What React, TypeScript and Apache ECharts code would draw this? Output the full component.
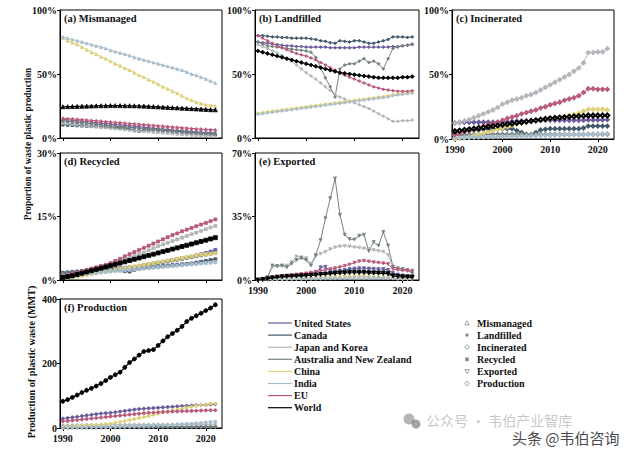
import React, { useEffect, useRef } from "react";
import * as echarts from "echarts";

const YEARS = [1990, 1991, 1992, 1993, 1994, 1995, 1996, 1997, 1998, 1999, 2000, 2001, 2002, 2003, 2004, 2005, 2006, 2007, 2008, 2009, 2010, 2011, 2012, 2013, 2014, 2015, 2016, 2017, 2018, 2019, 2020, 2021, 2022];
const COUNTRIES = ["United States", "Canada", "Japan and Korea", "Australia and New Zealand", "China", "India", "EU", "World"];
const CATEGORIES = ["Mismanaged", "Landfilled", "Incinerated", "Recycled", "Exported", "Production"];
const PANEL_TITLES = ["(a) Mismanaged", "(b) Landfilled", "(c) Incinerated", "(d) Recycled", "(e) Exported", "(f) Production"];
const X_TICKS = [1990, 2000, 2010, 2020];
const Y_MAX = [100, 100, 100, 30, 70, 400];
const Y_STEP = [50, 50, 50, 15, 35, 200];

// (a) Mismanaged, %
const mismanagedUS = [14.5, 14.2, 13.9, 13.5, 13.1, 12.8, 12.4, 12, 11.6, 11.3, 10.9, 10.5, 10.2, 9.8, 9.5, 9.1, 8.8, 8.4, 8, 7.7, 7.3, 7, 6.7, 6.3, 6, 5.7, 5.4, 5.1, 4.8, 4.6, 4.4, 4.2, 4];
const mismanagedCanada = [10.5, 10.3, 10.1, 9.9, 9.7, 9.5, 9.3, 9.1, 8.9, 8.7, 8.5, 8.3, 8.1, 7.9, 7.3, 6, 5.5, 6.5, 7, 6.8, 6.5, 6.2, 5.9, 5.6, 5.3, 5, 4.7, 4.4, 4.1, 3.8, 3.5, 3.2, 3];
const mismanagedJapanKorea = [12, 11.6, 11.2, 10.8, 10.4, 10, 9.6, 9.2, 8.8, 8.4, 8, 7.6, 7.2, 6.8, 6.4, 6, 5.7, 5.4, 5.1, 4.8, 4.5, 4.2, 3.9, 3.6, 3.3, 3, 2.8, 2.6, 2.4, 2.2, 2, 1.8, 1.6];
const mismanagedAusNZ = [13.5, 13.1, 12.7, 12.3, 11.9, 11.5, 11.1, 10.7, 10.3, 9.9, 9.5, 9.2, 8.9, 8.6, 8.3, 8, 7.7, 7.4, 7.1, 6.8, 6.5, 6.2, 5.9, 5.6, 5.3, 5, 4.7, 4.5, 4.3, 4.1, 3.9, 3.7, 3.5];
const mismanagedChina = [78, 76, 74.5, 73, 71, 69, 67, 65.5, 63.5, 62, 60, 58, 56.5, 54.5, 53, 51, 49, 47.5, 45.5, 44, 42, 40, 38.5, 36.5, 35, 33, 31, 29.5, 28, 27, 26, 25.5, 25];
const mismanagedIndia = [79, 78, 77, 76, 75, 74, 73, 72, 71, 70, 68.5, 67.5, 66.5, 65.5, 64.5, 63, 62, 61, 60, 59, 58, 57, 56, 55, 54, 53, 51.5, 50, 49, 47.5, 46, 44.5, 43];
const mismanagedEU = [15.5, 15.2, 15, 14.7, 14.4, 14.1, 13.8, 13.5, 13.2, 12.9, 12.6, 12.3, 12, 11.7, 11.4, 11.1, 10.8, 10.5, 10.2, 9.9, 9.6, 9.3, 9, 8.7, 8.4, 8.1, 7.8, 7.5, 7.2, 7, 6.8, 6.6, 6.4];
const mismanagedWorld = [24.4, 24.5, 24.6, 24.7, 24.8, 24.9, 25, 25.1, 25.2, 25.2, 25.3, 25.3, 25.3, 25.2, 25.2, 25.1, 25, 24.9, 24.7, 24.5, 24.3, 24.1, 23.9, 23.7, 23.5, 23.3, 23.1, 22.9, 22.7, 22.5, 22.3, 22.1, 22];

// (b) Landfilled, %
const landfilledUS = [75, 74.5, 74, 73.5, 73, 72.5, 72, 72, 71.5, 71.5, 71, 71, 71, 71, 71, 70.5, 70.5, 70.5, 70.5, 70.5, 70.5, 71, 71, 71, 71, 71, 71, 71, 71.5, 71.5, 72, 72.5, 73];
const landfilledCanada = [80, 80, 79.5, 79, 79, 78.5, 78.5, 78, 78, 78, 78, 77.5, 77, 76, 75.5, 74.5, 74, 76, 75.5, 75, 76, 76, 75, 74, 74, 75, 76, 77, 79, 79, 79, 78.5, 79];
const landfilledJapanKorea = [73, 71.5, 70, 68, 66.5, 64.5, 62, 60, 57, 54, 51, 48.5, 46, 43, 40, 37, 34, 32, 30.5, 29, 27.5, 26, 24.5, 23, 21, 19, 17, 15, 13, 13, 13.5, 13.5, 14];
const landfilledAusNZ = [75, 73.5, 72, 71.5, 71, 70.5, 70, 69.5, 69, 68.5, 68, 67, 63, 55, 47, 40, 32, 54, 57, 58, 58, 60, 62, 59, 60, 58, 54, 62, 70, 71, 72, 72.5, 73.5];
const landfilledChina = [19.5, 20, 20.5, 21, 21.5, 22, 22.5, 23, 23.5, 24, 24.5, 25, 25.5, 26, 26.5, 27, 27.5, 28, 28.5, 29, 29.5, 30, 30.5, 31, 31.5, 32, 32.5, 33, 34, 34.5, 35, 35.5, 36];
const landfilledIndia = [18.5, 19, 19.5, 20, 20.5, 21, 21.5, 22, 22.5, 23, 23.5, 24, 24.5, 25, 25.5, 26, 26.5, 27, 27.5, 28, 28.5, 29, 29.5, 30, 30.5, 31, 31.5, 32, 33, 33.5, 34, 34.5, 35];
const landfilledEU = [80, 78, 76, 74, 72, 70.5, 69, 67.5, 66, 65, 64, 62.5, 61, 59, 57, 55, 53, 51, 49, 47.5, 46, 44.5, 43, 41.5, 40, 39, 38, 37.5, 37, 36.5, 36.5, 36.5, 37];
const landfilledWorld = [68, 67, 66, 65, 64, 63, 62, 61, 60, 59, 58, 57, 56, 55, 54, 53, 52, 51, 50.5, 50, 49.5, 49, 48.5, 48, 47.5, 47, 47, 47, 47, 47, 47.5, 47.5, 48];

// (c) Incinerated, %
const incineratedUS = [12.5, 12.8, 13, 13, 13, 13, 13, 13, 13, 13, 13.2, 13.4, 13.6, 13.8, 14, 14, 14.2, 14.2, 14.3, 14.4, 14.5, 14.5, 14.5, 14.5, 14.5, 14.5, 14.5, 14.6, 14.8, 14.8, 14.8, 14.9, 15];
const incineratedCanada = [5, 5.5, 6, 6.5, 7, 7, 7.5, 7.5, 8, 8, 8, 8, 8, 6.5, 5, 3.5, 3, 5, 7, 7.5, 8, 8, 8, 8, 8, 8, 8, 8.5, 10, 10, 10, 10, 10];
const incineratedJapanKorea = [12.5, 13, 14, 15, 16.5, 18, 19.5, 21, 22.5, 24.5, 27, 28.5, 30, 31, 32, 33.5, 34.5, 36, 38, 40, 42, 44, 46, 48, 50, 52.5, 55, 59, 67, 67, 67.5, 67.5, 70];
const incineratedAusNZ = [3, 3, 3.2, 3.3, 3.4, 3.5, 3.5, 3.6, 3.6, 3.6, 3.6, 3.6, 3.6, 3.6, 3.6, 3.5, 3.5, 3.5, 3.5, 3.5, 3.5, 3.5, 3.5, 3.5, 3.5, 3.5, 3.5, 3.5, 3.6, 3.6, 3.6, 3.6, 3.6];
const incineratedChina = [0, 0.5, 1, 1.5, 2.5, 3.5, 4.5, 5.5, 6.5, 7.5, 8.5, 9.5, 10.5, 11.5, 12.5, 13, 13.5, 14, 14.5, 15, 15.5, 16, 16.5, 17, 18, 19, 20, 21.5, 23, 23, 23, 23, 22.5];
const incineratedIndia = [1, 1, 1.1, 1.2, 1.3, 1.4, 1.5, 1.6, 1.7, 1.8, 1.9, 2, 2.1, 2.2, 2.3, 2.4, 2.5, 2.6, 2.7, 2.8, 2.9, 3, 3.1, 3.2, 3.3, 3.4, 3.5, 3.6, 3.7, 3.8, 3.9, 4, 4.1];
const incineratedEU = [3.5, 4.5, 5.5, 6.5, 7.5, 8.7, 9.8, 11, 12, 13, 14.5, 16, 17, 18, 19.5, 20.5, 21.5, 22.5, 24, 25, 26.5, 27.5, 28.5, 30, 31, 32, 33.5, 36, 39, 39, 38.5, 38.5, 38.5];
const incineratedWorld = [6, 6.5, 7, 7.5, 8, 8.5, 9, 9.5, 10, 10.5, 11, 11.5, 12, 12.5, 13, 13.5, 14, 14.5, 15, 15.5, 16, 16.3, 16.6, 16.9, 17.2, 17.5, 17.7, 17.9, 18.2, 18.2, 18.2, 18.3, 18.3];

// (d) Recycled, %
const recycledUS = [1.6, 1.7, 1.8, 1.9, 2, 2.1, 2.2, 2.3, 2.4, 2.5, 2.6, 2.7, 2.8, 2.9, 3, 3.1, 3.3, 3.5, 3.7, 3.9, 4.1, 4.3, 4.5, 4.7, 4.9, 5.1, 5.3, 5.5, 5.8, 6.1, 6.4, 6.7, 7.1];
const recycledCanada = [1.7, 1.8, 1.9, 2, 2.1, 2.2, 2.3, 2.4, 2.5, 2.5, 2.5, 2.4, 2.3, 2.1, 2, 2.4, 2.7, 2.9, 3, 3.1, 3.2, 3.3, 3.4, 3.5, 3.6, 3.7, 3.8, 3.9, 4.1, 4.3, 4.5, 4.7, 4.9];
const recycledJapanKorea = [0.8, 1, 1.3, 1.6, 1.9, 2.2, 2.5, 2.8, 3.1, 3.4, 3.7, 4.1, 4.5, 4.9, 5.3, 5.7, 6.1, 6.5, 7, 7.5, 8, 8.4, 8.8, 9.2, 9.6, 10, 10.4, 10.8, 11.2, 11.6, 12, 12.4, 12.8];
const recycledAusNZ = [1.5, 1.6, 1.7, 1.8, 1.9, 2, 2.1, 2.2, 2.3, 2.4, 2.5, 2.6, 2.7, 2.8, 2.9, 3, 3.2, 3.4, 3.6, 3.8, 4, 4.2, 4.4, 4.6, 4.8, 5, 5.2, 5.4, 5.6, 5.8, 6, 6.2, 6.4];
const recycledChina = [0.5, 0.6, 0.7, 0.8, 1, 1.2, 1.4, 1.6, 1.8, 2, 2.2, 2.4, 2.6, 2.8, 3, 3.2, 3.4, 3.6, 3.8, 4, 4.2, 4.4, 4.6, 4.8, 5, 5.2, 5.4, 5.6, 5.8, 6, 6.1, 6.2, 6.3];
const recycledIndia = [1, 1.1, 1.2, 1.3, 1.4, 1.5, 1.6, 1.7, 1.8, 1.9, 2, 2.1, 2.2, 2.3, 2.4, 2.5, 2.6, 2.7, 2.8, 2.9, 3, 3.1, 3.2, 3.3, 3.4, 3.5, 3.6, 3.7, 3.8, 3.9, 4, 4.1, 4.2];
const recycledEU = [0.8, 1.1, 1.4, 1.7, 2, 2.4, 2.7, 3, 3.3, 3.6, 4, 4.5, 5, 5.6, 6.1, 6.6, 7.1, 7.6, 8.1, 8.6, 9.1, 9.6, 10.1, 10.6, 11, 11.5, 11.9, 12.3, 12.7, 13.1, 13.5, 13.9, 14.3];
const recycledWorld = [0.6, 0.8, 1, 1.3, 1.6, 1.9, 2.2, 2.5, 2.8, 3.1, 3.4, 3.7, 4, 4.3, 4.6, 4.9, 5.2, 5.5, 5.8, 6.1, 6.4, 6.7, 7, 7.3, 7.6, 7.9, 8.2, 8.5, 8.8, 9.1, 9.4, 9.7, 10];

// (e) Exported, %
const exportedUS = [0, 0.3, 0.6, 1, 1.3, 1.6, 1.9, 2.2, 2.5, 2.8, 3, 3.5, 4, 7, 7.3, 5, 4.8, 5, 5.5, 6, 6.3, 6.5, 6.5, 6.3, 6.2, 6, 6, 5.5, 4, 3, 2.5, 2.2, 2];
const exportedCanada = [0, 0.2, 0.5, 0.8, 1, 1.2, 1.5, 1.8, 2, 2.3, 2.5, 2.8, 3, 3.3, 3.6, 4, 4.3, 4.6, 4.8, 5, 5, 4.9, 4.8, 4.7, 4.6, 4.5, 4.4, 4.2, 3, 2.6, 2.3, 2.1, 2];
const exportedJapanKorea = [0, 0.5, 1.5, 7, 7.5, 7.8, 8, 10, 13, 12.5, 12, 9, 13, 14.5, 15.5, 17, 18, 18.5, 18.7, 18.5, 18, 17.8, 17.4, 17, 16.5, 16, 15.6, 13.7, 7.3, 6.4, 6, 5.5, 5];
const exportedAusNZ = [0, 0.5, 1.5, 8, 7.7, 8, 7, 9, 11, 12, 11, 8, 13.7, 22, 34, 45, 56, 36, 25, 22.5, 22.3, 24.4, 25, 16, 21, 19, 26.5, 19, 7.3, 6.4, 5.9, 5.5, 3.7];
const exportedChina = [0, 0, 0.1, 0.2, 0.3, 0.4, 0.5, 0.6, 0.7, 0.8, 0.9, 1, 1.1, 1.2, 1.3, 1.4, 1.5, 1.6, 1.7, 1.8, 1.8, 1.8, 1.8, 1.7, 1.6, 1.5, 1.4, 1.3, 0.8, 0.6, 0.5, 0.5, 0.5];
const exportedIndia = [0, 0, 0.1, 0.1, 0.2, 0.2, 0.3, 0.3, 0.4, 0.4, 0.5, 0.5, 0.6, 0.6, 0.7, 0.7, 0.8, 0.8, 0.9, 0.9, 1, 1, 1, 1, 1, 1, 1, 1, 0.8, 0.7, 0.6, 0.6, 0.6];
const exportedEU = [0, 0.3, 0.8, 1.2, 1.6, 2, 2.3, 2.6, 3, 3.3, 3.6, 4, 4.5, 5, 5.5, 6, 6.5, 7, 7.8, 8.5, 9.5, 10.3, 10.6, 10.2, 9.8, 9.5, 9.2, 8.8, 6, 5.5, 5.2, 5, 5];
const exportedWorld = [0, 0.3, 0.7, 1.2, 1.6, 1.8, 2, 2.1, 2.2, 2.3, 2.4, 2.6, 2.8, 3, 3.2, 3.4, 3.6, 3.8, 3.9, 4, 4, 4, 4, 3.9, 3.8, 3.7, 3.6, 3.4, 2.2, 1.9, 1.7, 1.6, 1.5];

// (f) Production, MMT
const productionUS = [29, 31, 33, 35, 37, 39, 41, 43, 45, 46, 47, 49, 51, 53, 55, 57, 59, 60, 61, 62, 63, 64, 65, 66, 67, 68, 69, 70, 70.5, 71, 72, 73, 74];
const productionCanada = [2, 2.1, 2.2, 2.3, 2.4, 2.5, 2.6, 2.7, 2.8, 2.9, 3, 3.1, 3.2, 3.3, 3.4, 3.5, 3.6, 3.7, 3.8, 3.9, 4, 4, 4.1, 4.1, 4.2, 4.2, 4.3, 4.3, 4.4, 4.4, 4.5, 4.5, 4.6];
const productionJapanKorea = [8, 8.2, 8.4, 8.6, 8.8, 9, 9.2, 9.4, 9.6, 9.8, 10, 10, 10.1, 10.2, 10.3, 10.4, 10.5, 10.5, 10.5, 10.4, 10.5, 10.6, 10.7, 10.8, 10.9, 11, 11, 11.1, 11.2, 11.2, 11.3, 11.4, 11.5];
const productionAusNZ = [1, 1.1, 1.2, 1.3, 1.4, 1.5, 1.6, 1.7, 1.8, 1.9, 2, 2.1, 2.2, 2.3, 2.4, 2.5, 2.6, 2.7, 2.8, 2.9, 3, 3, 3.1, 3.1, 3.2, 3.2, 3.3, 3.3, 3.4, 3.4, 3.5, 3.5, 3.6];
const productionChina = [2, 3, 4, 5, 6, 7.5, 8.5, 9.5, 11, 12, 13, 16, 19, 22, 25, 28, 31, 34, 37, 41, 45, 48, 51, 54, 57, 60, 63, 66, 69, 71, 73, 75, 76];
const productionIndia = [0.5, 0.8, 1, 1.3, 1.6, 2, 2.3, 2.6, 3, 3.3, 3.7, 4, 4.4, 4.8, 5.2, 5.6, 6, 6.5, 7, 7.5, 8, 8.7, 9.5, 10.3, 11, 12, 13, 14, 15, 16, 17.5, 19, 20];
const productionEU = [21, 22, 23.5, 25, 26.5, 28, 29.5, 31, 32.5, 34, 36, 37, 38.5, 40, 41.5, 43, 44.5, 46, 47, 48, 49, 50, 50.5, 51, 51.5, 52, 52.5, 53, 53.5, 54, 54.5, 55, 55];
const productionWorld = [83, 88, 95, 102, 110, 117, 123, 130, 138, 147, 157, 165, 173, 188, 203, 214, 226, 237, 240, 243, 256, 270, 283, 293, 303, 315, 330, 340, 348, 356, 364, 372, 382];

const MISMANAGED = [mismanagedUS, mismanagedCanada, mismanagedJapanKorea, mismanagedAusNZ, mismanagedChina, mismanagedIndia, mismanagedEU, mismanagedWorld];
const LANDFILLED = [landfilledUS, landfilledCanada, landfilledJapanKorea, landfilledAusNZ, landfilledChina, landfilledIndia, landfilledEU, landfilledWorld];
const INCINERATED = [incineratedUS, incineratedCanada, incineratedJapanKorea, incineratedAusNZ, incineratedChina, incineratedIndia, incineratedEU, incineratedWorld];
const RECYCLED = [recycledUS, recycledCanada, recycledJapanKorea, recycledAusNZ, recycledChina, recycledIndia, recycledEU, recycledWorld];
const EXPORTED = [exportedUS, exportedCanada, exportedJapanKorea, exportedAusNZ, exportedChina, exportedIndia, exportedEU, exportedWorld];
const PRODUCTION = [productionUS, productionCanada, productionJapanKorea, productionAusNZ, productionChina, productionIndia, productionEU, productionWorld];
const PANEL_DATA = [MISMANAGED, LANDFILLED, INCINERATED, RECYCLED, EXPORTED, PRODUCTION];

const COLORS = ["#6a5a9c", "#41596b", "#b2b6ba", "#75837f", "#ddd07a", "#a9bccb", "#b8587a", "#000000"];
const FONT = "'Liberation Serif', 'Times New Roman', serif";

const GRIDS = [
  { left: 60, top: 10, width: 162, height: 128 },
  { left: 255, top: 10, width: 164, height: 128 },
  { left: 452, top: 10, width: 162, height: 129 },
  { left: 60, top: 153, width: 162, height: 127 },
  { left: 255, top: 153, width: 164, height: 127 },
  { left: 60, top: 299, width: 162, height: 129 },
];
const SHOW_X_LABELS = [false, false, true, false, true, true];
const SYMBOLS = [
  { symbol: "triangle", rotate: 0 },
  { symbol: "diamond", rotate: 0 },
  { symbol: "emptyDiamond", rotate: 0 },
  { symbol: "rect", rotate: 0 },
  { symbol: "triangle", rotate: 180 },
  { symbol: "circle", rotate: 0 },
];

export default function App() {
  const ref = useRef<HTMLDivElement>(null);

  useEffect(() => {
    if (!ref.current) return;
    const chart = echarts.init(ref.current, undefined, { renderer: "svg" });
    const labelStyle = { fontFamily: FONT, fontWeight: "bold" as const, fontSize: 10, color: "#111" };

    const xAxis = GRIDS.map((_, i) => ({
      type: "value",
      gridIndex: i,
      min: 1989.4,
      max: 2023.4,
      axisLine: { show: true, lineStyle: { color: "#000", width: 1 } },
      axisTick: { show: true, customValues: X_TICKS, length: 3, lineStyle: { color: "#000" } },
      axisLabel: { show: SHOW_X_LABELS[i], customValues: X_TICKS, margin: 5, ...labelStyle, formatter: (v: number) => String(Math.round(v)) },
      splitLine: { show: false },
    }));
    const yAxis = GRIDS.map((_, i) => ({
      type: "value",
      gridIndex: i,
      min: 0,
      max: Y_MAX[i],
      interval: Y_STEP[i],
      axisLine: { show: true, lineStyle: { color: "#000", width: 1 } },
      axisTick: { show: true, length: 3, lineStyle: { color: "#000" } },
      axisLabel: {
        margin: 3,
        ...labelStyle,
        formatter: (v: number) => (i < 5 ? `${v}%` : `${v}`),
      },
      splitLine: { show: false },
    }));

    const series: any[] = [];
    PANEL_DATA.forEach((panel, gi) => {
      panel.forEach((vals, ci) => {
        const isWorld = ci === COUNTRIES.length - 1;
        series.push({
          type: "line",
          name: `${COUNTRIES[ci]} ${CATEGORIES[gi]}`,
          xAxisIndex: gi,
          yAxisIndex: gi,
          data: vals.map((v, k) => [YEARS[k], v]),
          symbol: SYMBOLS[gi].symbol,
          symbolRotate: SYMBOLS[gi].rotate,
          symbolSize: isWorld ? 4 : 3,
          showSymbol: true,
          lineStyle: { color: COLORS[ci], width: isWorld ? 1.2 : 1 },
          itemStyle: { color: COLORS[ci], borderColor: COLORS[ci], borderWidth: 0.8 },
          z: isWorld ? 5 : 2,
          silent: true,
        });
      });
    });

    const graphic: any[] = [];
    PANEL_TITLES.forEach((t, i) => {
      graphic.push({
        type: "text",
        x: GRIDS[i].left + 4,
        y: GRIDS[i].top + 8,
        style: { text: t, fontFamily: FONT, fontWeight: "bold", fontSize: 10.5, fill: "#111", textVerticalAlign: "middle" },
        z: 10,
      });
    });
    graphic.push({
      type: "text",
      x: 28,
      y: 144,
      rotation: Math.PI / 2,
      style: { text: "Proportion of waste plastic production", fontFamily: FONT, fontWeight: "bold", fontSize: 9.3, fill: "#111", textAlign: "center", textVerticalAlign: "middle" },
    });
    graphic.push({
      type: "text",
      x: 31,
      y: 362,
      rotation: Math.PI / 2,
      style: { text: "Production of plastic waste (MMT)", fontFamily: FONT, fontWeight: "bold", fontSize: 10.2, fill: "#111", textAlign: "center", textVerticalAlign: "middle" },
    });

    // country legend
    COUNTRIES.forEach((c, i) => {
      const y = 323 + i * 12.1;
      graphic.push({ type: "line", shape: { x1: 268, y1: y, x2: 292, y2: y }, style: { stroke: COLORS[i], lineWidth: 1.2 } });
      graphic.push({
        type: "text", x: 294, y,
        style: { text: c, fontFamily: FONT, fontWeight: "bold", fontSize: 10, fill: "#111", textVerticalAlign: "middle" },
      });
    });

    // marker legend
    const mx = 467;
    const mk = "#8a8a8a";
    CATEGORIES.forEach((c, i) => {
      const y = 323 + i * 12.1;
      let shape: any;
      if (i === 0) shape = { type: "polygon", shape: { points: [[mx, y - 2.2], [mx - 2.2, y + 1.8], [mx + 2.2, y + 1.8]] }, style: { fill: "none", stroke: mk, lineWidth: 0.8 } };
      else if (i === 1) shape = { type: "polygon", shape: { points: [[mx, y - 2.2], [mx + 2, y], [mx, y + 2.2], [mx - 2, y]] }, style: { fill: mk } };
      else if (i === 2) shape = { type: "polygon", shape: { points: [[mx, y - 2.4], [mx + 2.2, y], [mx, y + 2.4], [mx - 2.2, y]] }, style: { fill: "none", stroke: mk, lineWidth: 0.8 } };
      else if (i === 3) shape = { type: "rect", shape: { x: mx - 1.8, y: y - 1.8, width: 3.6, height: 3.6 }, style: { fill: mk } };
      else if (i === 4) shape = { type: "polygon", shape: { points: [[mx - 2.2, y - 1.8], [mx + 2.2, y - 1.8], [mx, y + 2.2]] }, style: { fill: "none", stroke: mk, lineWidth: 0.8 } };
      else shape = { type: "circle", shape: { cx: mx, cy: y, r: 2 }, style: { fill: "none", stroke: mk, lineWidth: 0.8 } };
      graphic.push(shape);
      graphic.push({
        type: "text", x: 477, y,
        style: { text: c, fontFamily: FONT, fontWeight: "bold", fontSize: 10, fill: "#111", textVerticalAlign: "middle" },
      });
    });

    // watermark
    graphic.push({ type: "circle", shape: { cx: 409, cy: 419, r: 5.5 }, style: { fill: "rgba(120,120,120,0.55)" } });
    graphic.push({ type: "circle", shape: { cx: 416, cy: 424, r: 4.5 }, style: { fill: "rgba(90,90,90,0.55)" } });
    graphic.push({
      type: "text", x: 426, y: 420,
      style: { text: "公众号 · 韦伯产业智库", fontFamily: "'Noto Sans CJK SC', sans-serif", fontSize: 14, fill: "rgba(150,150,150,0.55)", textVerticalAlign: "middle" },
      z: 20,
    });
    graphic.push({
      type: "text", x: 512, y: 437,
      style: { text: "头条 @韦伯咨询", fontFamily: "'Noto Sans CJK SC', sans-serif", fontSize: 15, fill: "#4a4a4a", stroke: "#ffffff", lineWidth: 3, textVerticalAlign: "middle" },
      z: 21,
    });

    chart.setOption({
      animation: false,
      backgroundColor: "#ffffff",
      grid: GRIDS.map((g) => ({ ...g, show: true, borderColor: "#000", borderWidth: 1, containLabel: false })),
      xAxis,
      yAxis,
      series,
      graphic,
    });
    return () => chart.dispose();
  }, []);

  return <div ref={ref} style={{ position: "absolute", left: 0, top: 0, width: 640, height: 452 }} />;
}
